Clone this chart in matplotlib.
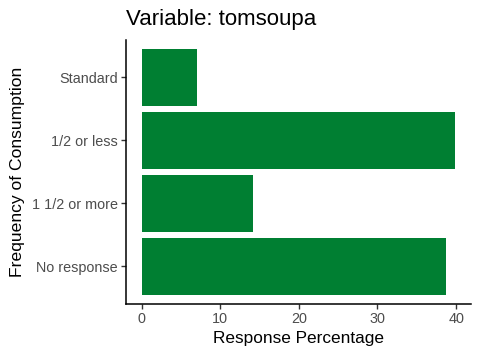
import matplotlib
matplotlib.use("Agg")
import matplotlib.pyplot as plt

categories = ["No response", "1 1/2 or more", "1/2 or less", "Standard"]
values = [38.7, 14.1, 39.9, 7.1]
xticks = [0, 10, 20, 30, 40]

plt.rcParams['font.family'] = ['Liberation Sans', 'DejaVu Sans']

fig = plt.figure(figsize=(4.8, 3.6), dpi=100)
W, H = 480, 360
left, right, top, bottom = 126, 471, 39.5, 304
ax = fig.add_axes([left / W, 1 - bottom / H, (right - left) / W, (bottom - top) / H])

y = list(range(len(categories)))
ax.barh(y, values, height=0.9, color="#007F32")
ax.set_yticks(y)
ax.set_yticklabels(categories)
ax.set_xticks(xticks)
ax.set_xticklabels([str(t) for t in xticks])
xmax = max(values)
ax.set_xlim(-0.05 * xmax, xmax * 1.05)
ax.set_ylim(-0.6, len(categories) - 1 + 0.6)

for s in ["top", "right"]:
    ax.spines[s].set_visible(False)
for s in ["left", "bottom"]:
    ax.spines[s].set_linewidth(1.1)
    ax.spines[s].set_color("black")
ax.tick_params(axis="both", length=3.5, width=1.0, color="#333333",
               labelcolor="#4D4D4D", labelsize=10.4, pad=2.5)

ax.set_xlabel("Response Percentage", fontsize=12.4, color="black", labelpad=3)
ax.set_ylabel("Frequency of Consumption", fontsize=12.6, color="black")
ax.yaxis.set_label_coords((25 - left) / (right - left), 0.5)
fig.text(left / W, 1 - 20 / H, "Variable: tomsoupa", fontsize=16, ha="left", va="center")

fig.savefig("out.png", dpi=100)
